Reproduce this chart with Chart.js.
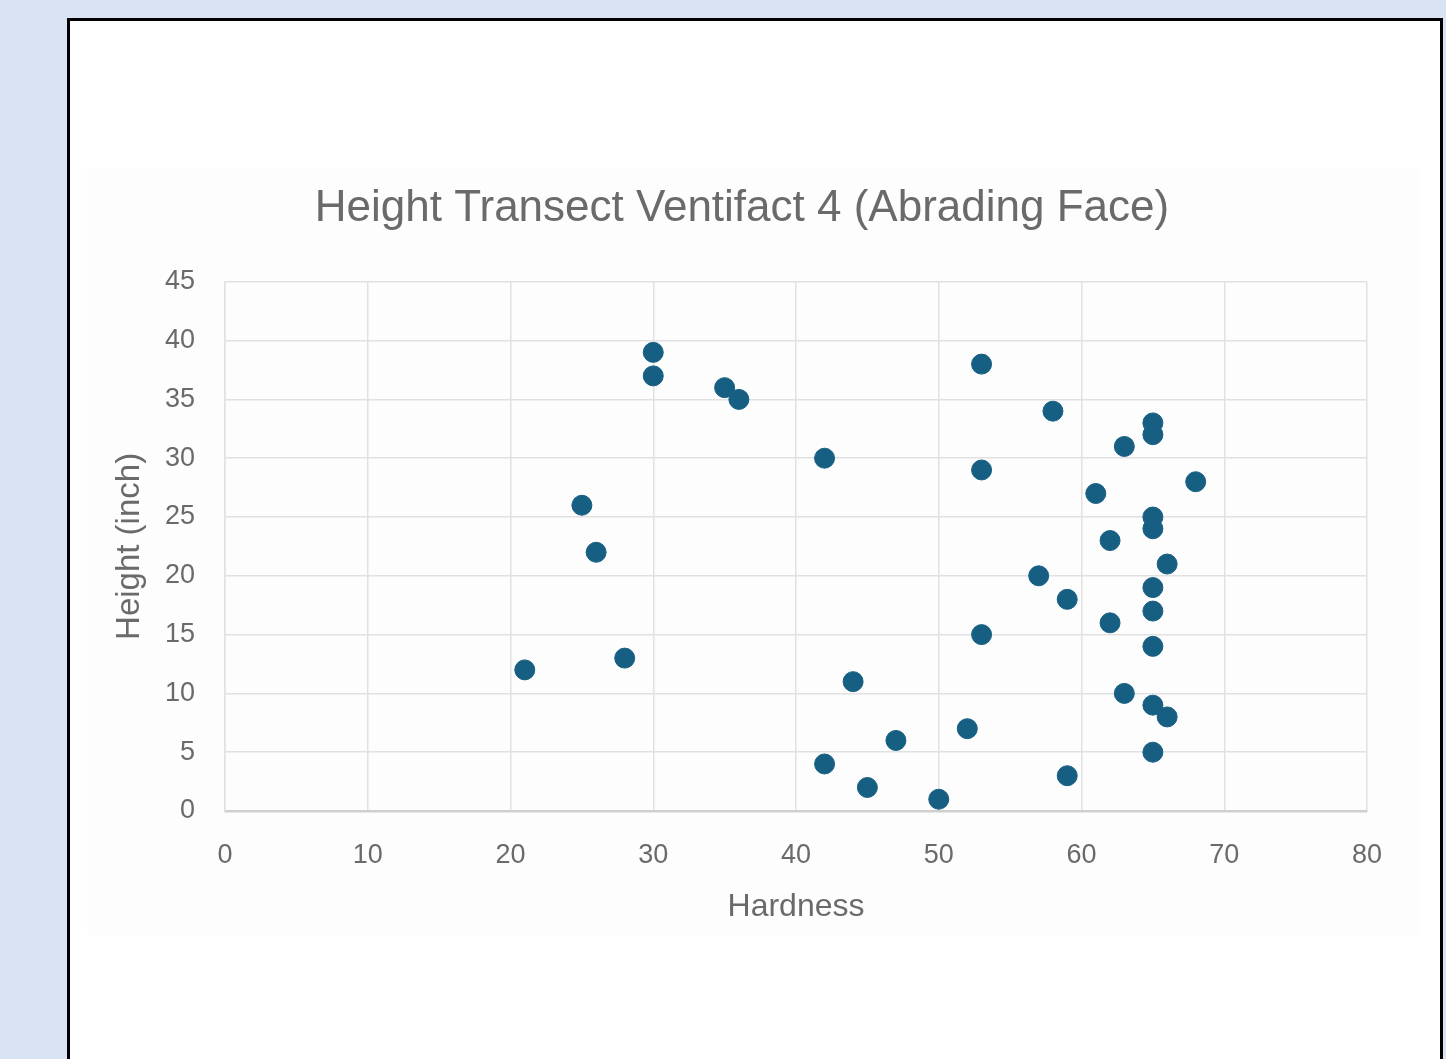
<!DOCTYPE html>
<html>
<head>
<meta charset="utf-8">
<script src="https://cdn.jsdelivr.net/npm/chart.js@4/dist/chart.umd.min.js"></script>
<style>
  html, body { margin: 0; padding: 0; width: 1446px; height: 1059px; overflow: hidden; background: #dae3f3; }
  #sheet { position: absolute; left: 67px; top: 18px; width: 1370px; height: 1100px; border: 3px solid #000; background: #fff; }
  #chartBox { position: absolute; left: 87px; top: 168px; width: 1334px; height: 767px; background: #fdfdfd; }
</style>
</head>
<body>
<div id="sheet"></div>
<div id="chartBox"><canvas id="chart"></canvas></div>
<script>
// Messpunkte: Höhe (inch) 1..39 mit zugehöriger Härte
var heights = [1, 2, 3, 4, 5, 6, 7, 8, 9, 10, 11, 12, 13, 14, 15, 16, 17, 18, 19, 20,
               21, 22, 23, 24, 25, 26, 27, 28, 29, 30, 31, 32, 33, 34, 35, 36, 37, 38, 39];
var hardness = [50, 45, 59, 42, 65, 47, 52, 66, 65, 63, 44, 21, 28, 65, 53, 62, 65, 59, 65, 57,
                66, 26, 62, 65, 65, 25, 61, 68, 53, 42, 63, 65, 65, 58, 36, 35, 30, 53, 30];
var xTicks = [0, 10, 20, 30, 40, 50, 60, 70, 80];
var yTicks = [0, 5, 10, 15, 20, 25, 30, 35, 40, 45];

var textColor = "#6a6a6a";
var gridColor = "#e1e1e1";

var points = [];
for (var i = 0; i < heights.length; i++)
    points.push({ x: hardness[i], y: heights[i] });

new Chart(document.getElementById("chart"), {
    type: "scatter",
    data: {
        datasets: [{
            data: points,
            backgroundColor: "#175f82",
            borderColor: "#175f82",
            pointRadius: 10,
            pointHoverRadius: 10
        }]
    },
    options: {
        responsive: true,
        maintainAspectRatio: false,
        animation: false,
        events: [],
        layout: { padding: { left: 0, right: 24, top: 0, bottom: 0 } },
        plugins: {
            legend: { display: false },
            tooltip: { enabled: false },
            title: {
                display: true,
                text: "Height Transect Ventifact 4 (Abrading Face)",
                color: textColor,
                font: { family: "Liberation Sans", size: 44, weight: "normal" },
                padding: { top: 14, bottom: 47 }
            }
        },
        scales: {
            x: {
                type: "linear",
                min: 0,
                max: 80,
                afterBuildTicks: function (scale) {
                    scale.ticks = xTicks.map(function (v) { return { value: v }; });
                },
                afterFit: function (scale) { scale.height = 124; },
                grid: { color: gridColor, lineWidth: 1.5, drawTicks: false },
                border: { color: "#cfcfcf", width: 2.5 },
                ticks: {
                    color: textColor,
                    padding: 28,
                    font: { family: "Liberation Sans", size: 27 }
                },
                title: {
                    display: true,
                    text: "Hardness",
                    color: textColor,
                    font: { family: "Liberation Sans", size: 32 },
                    padding: { top: 0, bottom: 9 }
                }
            },
            y: {
                type: "linear",
                min: 0,
                max: 45,
                afterBuildTicks: function (scale) {
                    scale.ticks = yTicks.map(function (v) { return { value: v }; });
                },
                afterFit: function (scale) { scale.width = 138; },
                grid: { color: gridColor, lineWidth: 1.5, drawTicks: false },
                border: { color: gridColor, width: 1.5 },
                ticks: {
                    color: textColor,
                    padding: 30,
                    font: { family: "Liberation Sans", size: 27 }
                },
                title: {
                    display: true,
                    text: "Height (inch)",
                    color: textColor,
                    font: { family: "Liberation Sans", size: 33 },
                    padding: { top: 23, bottom: 0 }
                }
            },
            // leere rechte Achse, nur als Abstand
            yRight: {
                type: "linear",
                position: "right",
                grid: { display: false },
                border: { display: false },
                ticks: { display: false },
                afterFit: function (scale) { scale.width = 30; }
            }
        }
    }
});
</script>
</body>
</html>
